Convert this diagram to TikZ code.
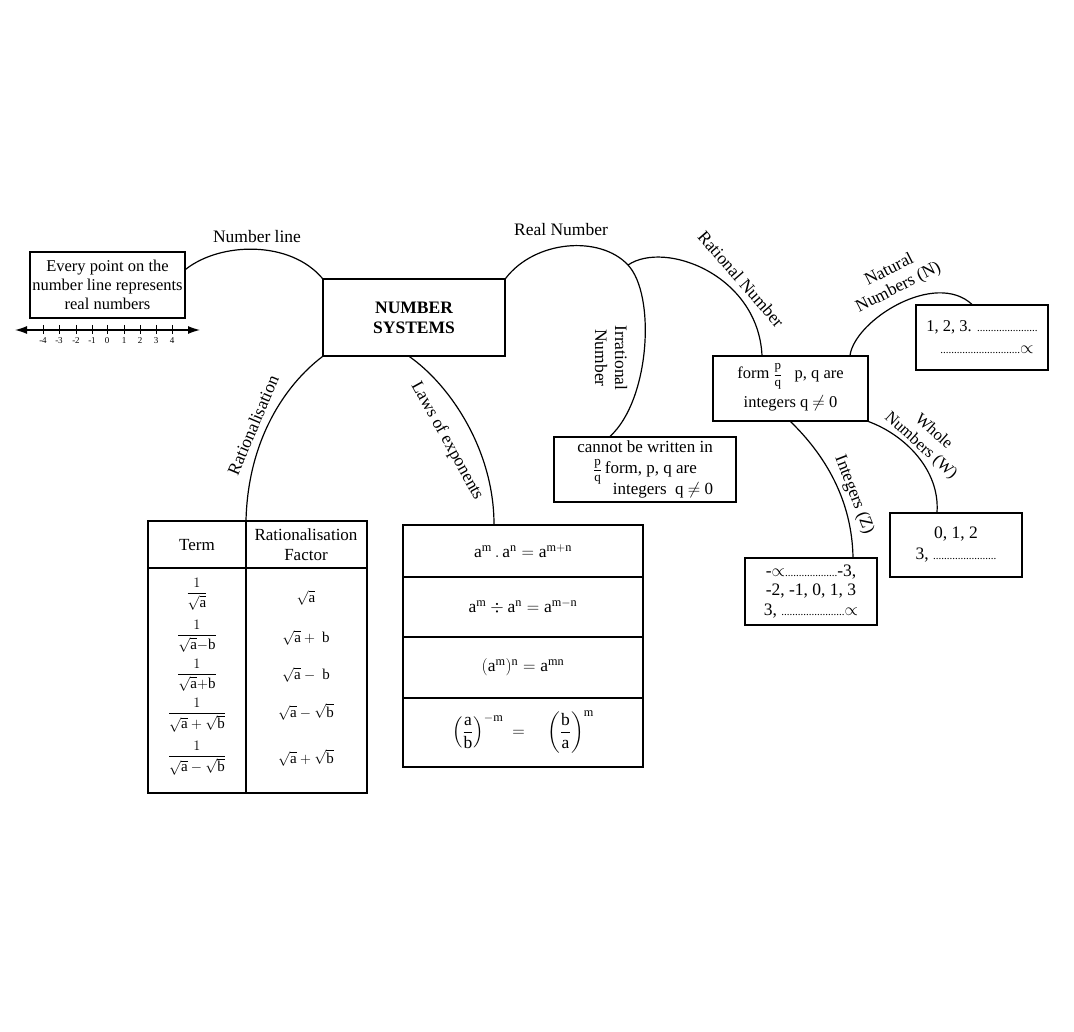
\documentclass[tikz,border=0pt]{standalone}
\usepackage{amsmath}
\usepackage{fontspec}
\setmainfont{Liberation Serif}
\usetikzlibrary{arrows.meta,calc}
\newcommand\dd[1]{{\fontsize{11}{11}\selectfont #1}}
\newcommand\pq{\smash{\fontsize{13}{13}\selectfont$\dfrac{\mathrm{p}}{\mathrm{q}}$}}
\begin{document}
\begin{tikzpicture}[x=1pt,y=-1pt,
  box/.style={draw,line width=1.2pt,align=center,inner sep=0pt,font=\fontsize{16.5}{19}\selectfont},
  conn/.style={line width=1.2pt},
  lbl/.style={font=\fontsize{17.5}{20}\selectfont,align=center,inner sep=0pt},
  cell/.style={font=\fontsize{17}{20}\selectfont,align=center,inner sep=0pt},
  tick/.style={font=\fontsize{9}{9}\selectfont,inner sep=0pt}]
\useasboundingbox[fill=white] (0,0) rectangle (1074,1032);

% boxes
\node[box,minimum width=155pt,minimum height=66pt] (every) at (107.5,285) {Every point on the\\number line represents\\real numbers};
\node[box,minimum width=182pt,minimum height=77pt,font=\bfseries\fontsize{17.5}{20}\selectfont] (ns) at (414,317.5) {NUMBER\\SYSTEMS};
\node[box,minimum width=155pt,minimum height=65pt,font=\fontsize{16.5}{29}\selectfont] (rat) at (790.5,388.5) {form \pq\ \ \ p, q are\\integers q $\neq$ 0};
\node[box,minimum width=182pt,minimum height=65pt,font=\fontsize{17}{21}\selectfont] (irr) at (645,469.5) {cannot be written in\\\pq\,form, p, q are\hspace*{12pt}\\\hspace*{36pt}integers\ \ q $\neq$ 0};
\node[box,minimum width=132pt,minimum height=65pt,font=\fontsize{16.5}{22}\selectfont] (nat) at (982,337.5) {1, 2, 3. \dd{......................}\\\hspace*{10pt}\dd{.............................}$\propto$};
\node[box,minimum width=132pt,minimum height=64pt,font=\fontsize{17.5}{21}\selectfont] (whole) at (956,545) {0, 1, 2\\3, \dd{.......................}};
\node[box,minimum width=132pt,minimum height=67pt,font=\fontsize{17.5}{19.5}\selectfont] (integ) at (811,591.5) {-$\propto$\dd{...................}-3,\\-2, -1, 0, 1, 3\\3, \dd{.......................}$\propto$};
\node[draw,line width=1.2pt,minimum width=219pt,minimum height=272pt,inner sep=0pt] (tbl) at (257.5,657) {};
\node[draw,line width=1.2pt,minimum width=240pt,minimum height=242pt,inner sep=0pt] (laws) at (523,646) {};

% number line
\draw[line width=1.2pt,{Latex[length=12pt,width=8pt]}-{Latex[length=12pt,width=8pt]}] (15,330) -- (200,330);
\foreach \x/\l [count=\i] in {43/-4,59/-3,76/-2,92/-1,107/0,124/1,140/2,156/3,172/4}{
  \draw[line width=0.8pt] (\x,325) -- (\x,334);
  \node[tick] (nl\i) at (\x,341) {\l};
}

% connectors
\coordinate (rb) at (628,265);
\draw[conn] ($(every.north east)+(0,18)$) .. controls (220,242) and (290,240) .. (ns.north west);
\draw[conn] (ns.north east) .. controls (535,240) and (600,235) .. (rb) .. controls (656,295) and (650,400) .. ($(irr.north)+(-35,0)$);
\draw[conn] (rb) .. controls (665,240) and (758,275) .. ($(rat.north)+(-28.5,0)$);
\draw[conn] ($(rat.north)+(59.5,0)$) .. controls (855,320) and (935,270) .. ($(nat.north)+(-10,0)$);
\draw[conn] (rat.south east) .. controls (905,435) and (940,470) .. ($(whole.north)+(-19,0)$);
\draw[conn] (rat.south) .. controls (825,455) and (852,500) .. ($(integ.north)+(42,0)$);
\draw[conn] (ns.south west) .. controls (285,385) and (248,440) .. ($(tbl.north)+(-11.5,0)$);
\draw[conn] ($(ns.south west)+(87,0)$) .. controls (450,385) and (494,450) .. ($(laws.north)+(-29,0)$);

% connector labels
\node[lbl] (lnl) at (257,237) {Number line};
\node[lbl] (lrn) at (561,230) {Real Number};
\node[lbl,rotate=-90,font=\fontsize{17.5}{20}\selectfont] (lirr) at (611,358) {Irrational\\Number};
\node[lbl,rotate=-49] (lrat) at (741,279) {Rational Number};
\node[lbl,rotate=27] (lnat) at (894,279) {Natural\\Numbers (N)};
\node[lbl,rotate=-42,font=\fontsize{16.5}{19}\selectfont] (lwh) at (927,439) {Whole\\Numbers (W)};
\node[lbl,rotate=-69] (lint) at (854,495) {Integers (Z)};
\node[lbl,rotate=67] (lrz) at (253,425) {Rationalisation};
\node[lbl,rotate=-61] (llaw) at (447,441) {Laws of exponents};

% rationalisation table
\draw[line width=1.2pt] (246,521) -- (246,793);
\draw[line width=2pt] (148,568) -- (367,568);
\node[cell] (th1) at (197,545) {Term};
\node[cell] (th2) at (306,545) {Rationalisation\\Factor};
\begin{scope}[every node/.style={cell,font=\fontsize{15}{17}\selectfont}]
\node (t1) at (197,594) {$\dfrac{1}{\sqrt{\mathrm{a}}}$};
\node (t2) at (197,636) {$\dfrac{1}{\sqrt{\mathrm{a}}\mathrm{-b}}$};
\node (t3) at (197,675) {$\dfrac{1}{\sqrt{\mathrm{a}}\mathrm{+b}}$};
\node (t4) at (197,715) {$\dfrac{1}{\sqrt{\mathrm{a}}+\sqrt{\mathrm{b}}}$};
\node (t5) at (197,758) {$\dfrac{1}{\sqrt{\mathrm{a}}-\sqrt{\mathrm{b}}}$};
\node (f1) at (306,598) {$\sqrt{\mathrm{a}}$};
\node (f2) at (306,638) {$\sqrt{\mathrm{a}}+\ \mathrm{b}$};
\node (f3) at (306,675) {$\sqrt{\mathrm{a}}-\ \mathrm{b}$};
\node (f4) at (306,712) {$\sqrt{\mathrm{a}}-\sqrt{\mathrm{b}}$};
\node (f5) at (306,758) {$\sqrt{\mathrm{a}}+\sqrt{\mathrm{b}}$};
\end{scope}

% laws table
\draw[line width=1.2pt] (403,577) -- (643,577);
\draw[line width=1.2pt] (403,637) -- (643,637);
\draw[line width=1.2pt] (403,698) -- (643,698);
\begin{scope}[every node/.style={cell,font=\fontsize{17.5}{20}\selectfont}]
\node (l1) at (523,551) {$\mathrm{a^m\,.\,a^n = a^{m+n}}$};
\node (l2) at (523,607) {$\mathrm{a^m \div a^n = a^{m-n}}$};
\node (l3) at (523,667) {$\mathrm{(a^m)^n = a^{mn}}$};
\node (l4) at (523,732) {$\left(\dfrac{\mathrm{a}}{\mathrm{b}}\right)^{-\mathrm{m}}\ =\quad\left(\dfrac{\mathrm{b}}{\mathrm{a}}\right)^{\mathrm{m}}$};
\end{scope}
\end{tikzpicture}
\end{document}
